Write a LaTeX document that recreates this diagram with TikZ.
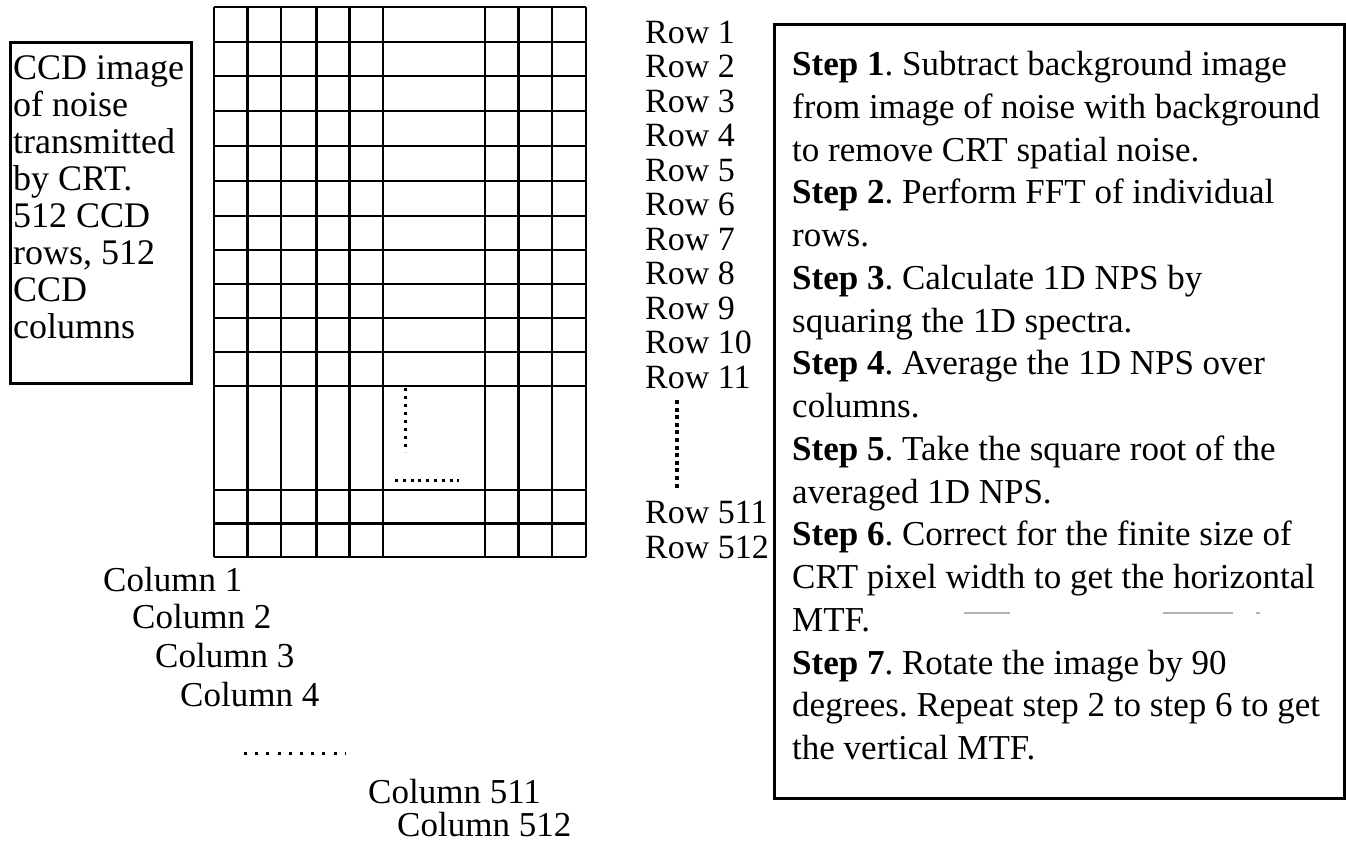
\documentclass[tikz,border=0pt]{standalone}
\usepackage{fontspec}
\setmainfont{Liberation Serif}
\begin{document}
\frenchspacing
\begin{tikzpicture}[x=1pt,y=-1pt,
  txt/.style={anchor=base west, inner sep=0pt, font=\fontsize{35}{40}\selectfont},
  rowtxt/.style={txt, font=\fontsize{34}{34}\selectfont},
  ccdtxt/.style={txt, font=\fontsize{36}{37}\selectfont},
  frame/.style={draw=black, line width=3pt, inner sep=0pt, fill=none},
  gridln/.style={line width=2.2pt},
  heavyln/.style={line width=3pt},
  dots/.style={line width=3pt, dash pattern=on 3pt off 5pt},
  speck/.style={draw=gray!60, line width=1.2pt}]
\useasboundingbox (0,0) rectangle (1346,844);

% left description box
\node[frame, anchor=north west, minimum width=181pt, minimum height=341pt] (ccdbox) at (9,41) {};
\foreach \t [count=\i] in {{CCD image},{of noise},{transmitted},{by CRT.},{512 CCD},{rows, 512},{CCD},{columns}}
  \node[ccdtxt] (ccd\i) at (13,{79+(\i-1)*37}) {\t};

% grid
\foreach \x in {214,281,383,485,552,586}
  \draw[gridln] (\x,7) -- (\x,557);
\foreach \x in {247,316,349,518}
  \draw[heavyln] (\x,7) -- (\x,557);
\foreach \y in {7,42,76,111,146,181,216,250,284,318,352,386,490,557}
  \draw[gridln] (214,\y) -- (586,\y);
\draw[heavyln] (214,523) -- (586,523);
\coordinate (vd1) at (405,388);
\coordinate (vd2) at (405,452);
\coordinate (hd1) at (395,480);
\coordinate (hd2) at (459,480);
\draw[dots] (vd1) -- (vd2);
\draw[dots, dash pattern=on 3pt off 4.8pt] (hd1) -- (hd2);

% row labels
\foreach \i in {1,...,11}
  \node[rowtxt] (row\i) at (645,{43.3+(\i-1)*34.5}) {Row \i};
\node[rowtxt] (row511) at (645,523.3) {Row 511};
\node[rowtxt] (row512) at (645,558.3) {Row 512};
\coordinate (rd1) at (677,400);
\coordinate (rd2) at (677,491);
\draw[line width=4pt, dash pattern=on 4pt off 3.6pt] (rd1) -- (rd2);

% column labels
\node[txt] (col1) at (103,591.6) {Column 1};
\node[txt] (col2) at (132,628.6) {Column 2};
\node[txt] (col3) at (155,667.6) {Column 3};
\node[txt] (col4) at (180,706.6) {Column 4};
\coordinate (cd1) at (244,753);
\coordinate (cd2) at (345,753);
\draw[line width=3pt, dash pattern=on 3pt off 8.2pt] (cd1) -- (cd2);
\node[txt] (col511) at (368,803) {Column 511};
\node[txt] (col512) at (397,836) {Column 512};

% steps box
\node[frame, anchor=north west, minimum width=570pt, minimum height=774pt] (stepbox) at (773,23) {};
\foreach \t [count=\i] in {
  {\textbf{Step 1}. Subtract background image},
  {from image of noise with background},
  {to remove CRT spatial noise.},
  {\textbf{Step 2}. Perform FFT of individual},
  {rows.},
  {\textbf{Step 3}. Calculate 1D NPS by},
  {squaring the 1D spectra.},
  {\textbf{Step 4}. Average the 1D NPS over},
  {columns.},
  {\textbf{Step 5}. Take the square root of the},
  {averaged 1D NPS.},
  {\textbf{Step 6}. Correct for the finite size of},
  {CRT pixel width to get the horizontal},
  {MTF.},
  {\textbf{Step 7}. Rotate the image by 90},
  {degrees. Repeat step 2 to step 6 to get},
  {the vertical MTF.}}
  \node[txt] (step\i) at (792,{75.6+(\i-1)*42.75}) {\t};

% faint scan marks
\draw[speck] (964,613) -- (1010,613);
\draw[speck] (1163,613) -- (1233,613);
\draw[speck] (1256,613) -- (1260,613);
\end{tikzpicture}
\end{document}
